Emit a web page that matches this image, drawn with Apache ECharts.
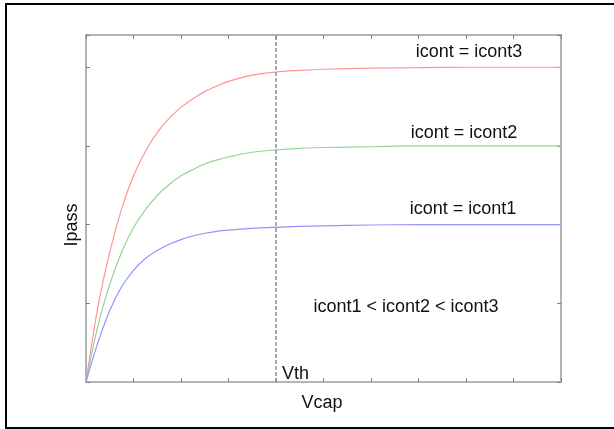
<!DOCTYPE html>
<html>
<head>
<meta charset="utf-8">
<style>
  html, body { margin: 0; padding: 0; background: #fff; }
  #chart { width: 614px; height: 429px; }
</style>
<script src="https://cdn.jsdelivr.net/npm/echarts@6/dist/echarts.min.js"></script>
</head>
<body>
<div id="chart"></div>
<script>
// Vcap samples (x axis, arbitrary units, Vth at 4)
var vcap = [0, 0.25, 0.5, 0.75, 1, 1.25, 1.5, 1.75, 2, 2.25, 2.5, 2.75, 3, 3.5, 4, 4.5, 5, 6, 7, 8, 9, 10];
// Ipass for each control current
var ipass3 = [0, 0.95, 1.65, 2.2, 2.62, 2.93, 3.17, 3.35, 3.49, 3.6, 3.69, 3.76, 3.82, 3.9, 3.94, 3.96, 3.975, 3.99, 3.995, 4, 4, 4];
var ipass2 = [0, 0.71, 1.24, 1.65, 1.96, 2.19, 2.37, 2.51, 2.62, 2.7, 2.77, 2.82, 2.86, 2.92, 2.95, 2.97, 2.98, 2.99, 3, 3, 3, 3];
var ipass1 = [0, 0.5, 0.91, 1.21, 1.42, 1.57, 1.67, 1.75, 1.81, 1.855, 1.89, 1.915, 1.93, 1.952, 1.966, 1.977, 1.985, 1.995, 2, 2, 2, 2];
var vth = 4;

function pairs(ys) {
    return vcap.map(function (x, i) { return [x, ys[i]]; });
}

var chart = echarts.init(document.getElementById('chart'));

var axisLine = { show: true, onZero: false, lineStyle: { color: '#b4b4b4', width: 2 } };
var axisTick = { show: true, inside: true, length: 4, lineStyle: { color: '#808080', width: 1 } };

function lineSeries(name, ys, color) {
    return {
        name: name,
        type: 'line',
        data: pairs(ys),
        smooth: 0.35,
        showSymbol: false,
        lineStyle: { color: color, width: 1.2 }
    };
}

var option = {
    animation: false,
    backgroundColor: '#fff',
    grid: { left: 86, top: 35, right: 53, bottom: 47 },
    xAxis: [
        { type: 'value', min: 0, max: 10, interval: 1, position: 'bottom',
          axisLine: axisLine, axisTick: axisTick, axisLabel: { show: false }, splitLine: { show: false } },
        { type: 'value', min: 0, max: 10, interval: 1, position: 'top',
          axisLine: axisLine, axisTick: axisTick, axisLabel: { show: false }, splitLine: { show: false } }
    ],
    yAxis: [
        { type: 'value', min: 0, max: 4.41, interval: 1, position: 'left',
          axisLine: axisLine, axisTick: axisTick, axisLabel: { show: false }, splitLine: { show: false } },
        { type: 'value', min: 0, max: 4.41, interval: 1, position: 'right',
          axisLine: axisLine, axisTick: axisTick, axisLabel: { show: false }, splitLine: { show: false } }
    ],
    series: [
        lineSeries('icont3', ipass3, '#ff9494'),
        lineSeries('icont2', ipass2, '#94d494'),
        lineSeries('icont1', ipass1, '#9494ff'),
        {
            type: 'line',
            data: [],
            markLine: {
                silent: true,
                symbol: 'none',
                label: { show: false },
                lineStyle: { color: '#8c8c8c', type: [4, 2], width: 1.5 },
                data: [{ xAxis: vth }]
            }
        }
    ],
    graphic: [
        // outer frame
        { type: 'rect', shape: { x: 6, y: 4, width: 700, height: 424 },
          style: { fill: 'none', stroke: '#000', lineWidth: 2 }, z: 100 },
        { type: 'text', x: 469, y: 52, style: { text: 'icont = icont3', font: '18px "Liberation Sans", Arial', fill: '#111', align: 'center', verticalAlign: 'middle' } },
        { type: 'text', x: 464, y: 133, style: { text: 'icont = icont2', font: '18px "Liberation Sans", Arial', fill: '#111', align: 'center', verticalAlign: 'middle' } },
        { type: 'text', x: 463, y: 209, style: { text: 'icont = icont1', font: '18px "Liberation Sans", Arial', fill: '#111', align: 'center', verticalAlign: 'middle' } },
        { type: 'text', x: 406, y: 307, style: { text: 'icont1 < icont2 < icont3', font: '18px "Liberation Sans", Arial', fill: '#111', align: 'center', verticalAlign: 'middle' } },
        { type: 'text', x: 282, y: 374, style: { text: 'Vth', font: '18px "Liberation Sans", Arial', fill: '#111', align: 'left', verticalAlign: 'middle' } },
        { type: 'text', x: 322, y: 403, style: { text: 'Vcap', font: '18px "Liberation Sans", Arial', fill: '#111', align: 'center', verticalAlign: 'middle' } },
        { type: 'text', x: 72, y: 225, rotation: Math.PI / 2, style: { text: 'Ipass', font: '18px "Liberation Sans", Arial', fill: '#111', align: 'center', verticalAlign: 'middle' } }
    ]
};

chart.setOption(option);
</script>
</body>
</html>
